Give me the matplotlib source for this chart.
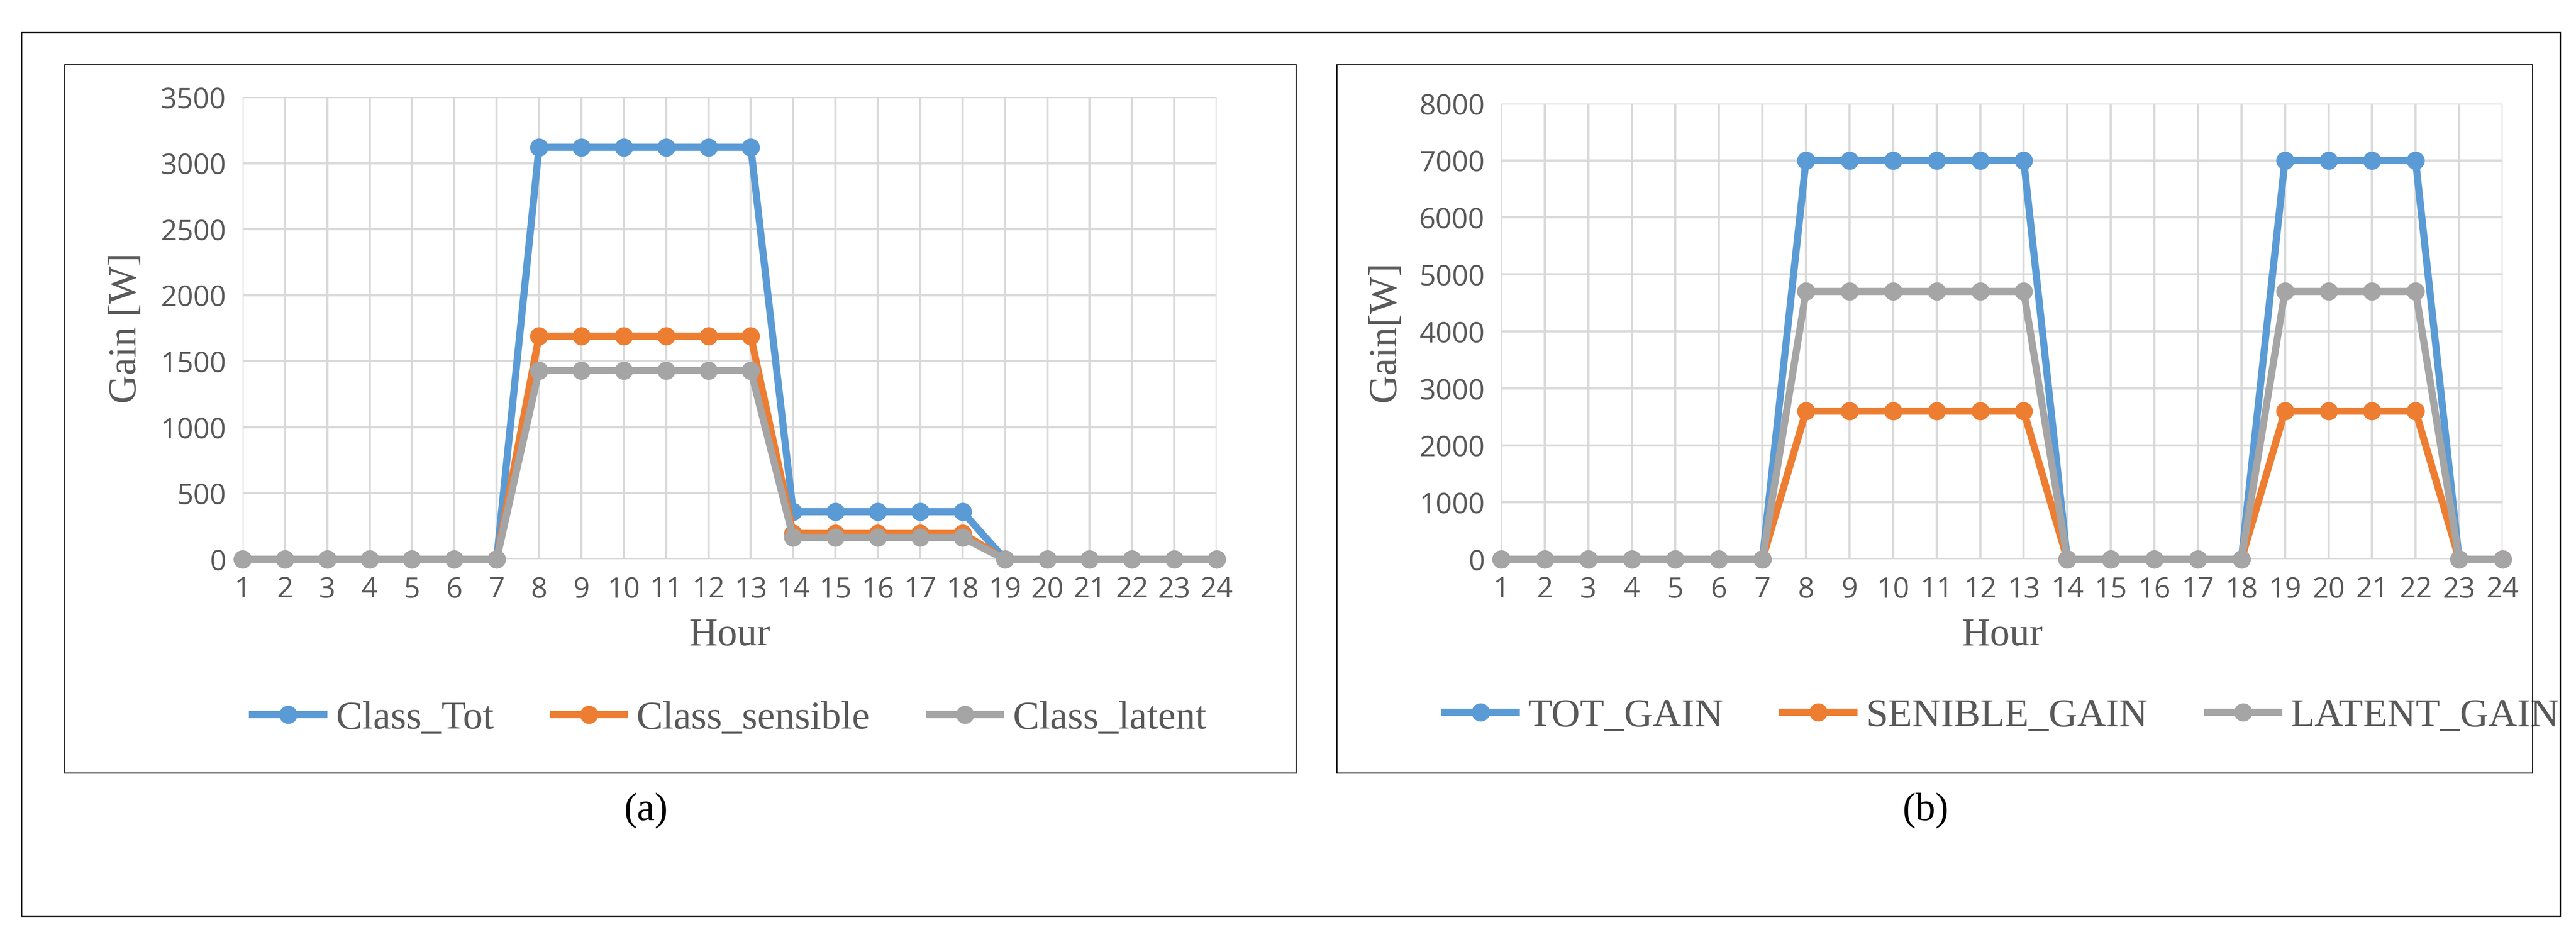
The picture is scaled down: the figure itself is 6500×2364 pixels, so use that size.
import matplotlib
matplotlib.use("Agg")
import matplotlib.pyplot as plt
from matplotlib.patches import Rectangle

hours = list(range(1, 25))
class_tot =      [0]*7 + [3120]*6 + [360]*5 + [0]*6
class_sensible = [0]*7 + [1690]*6 + [195]*5 + [0]*6
class_latent =   [0]*7 + [1430]*6 + [165]*5 + [0]*6
tot_gain =      [0]*7 + [7000]*6 + [0]*5 + [7000]*4 + [0]*2
senible_gain =  [0]*7 + [2600]*6 + [0]*5 + [2600]*4 + [0]*2
latent_gain =   [0]*7 + [4700]*6 + [0]*5 + [4700]*4 + [0]*2

colors = ["#5B9BD5", "#ED7D31", "#A5A5A5"]
W, H = 6500, 2364
fig = plt.figure(figsize=(W/100, H/100), dpi=100)
tick_font = "Open Sans"
lab_font = "Liberation Serif"

def frame(x0, y0, x1, y1, lw):
    fig.add_artist(Rectangle((x0/W, 1-y1/H), (x1-x0)/W, (y1-y0)/H, transform=fig.transFigure,
                             fill=False, edgecolor="black", lw=lw))

frame(54, 82, 6460, 2311, 2.5)
frame(163, 163, 3270, 1950, 2)
frame(3373, 163, 6390, 1950, 2)

def panel(rect, series, names, ymax, step, ylabel, label_x, tag):
    x0, y0, x1, y1 = rect
    ax = fig.add_axes([x0/W, 1-y1/H, (x1-x0)/W, (y1-y0)/H])
    for s, n, c in zip(series, names, colors):
        ax.plot(hours, s, color=c, lw=13, marker="o", ms=32, label=n, clip_on=False, zorder=3)
    ax.set_xlim(1, 24)
    ax.set_ylim(0, ymax)
    ax.set_xticks(hours)
    ax.set_yticks(range(0, ymax+1, step))
    ax.grid(True, color="#D9D9D9", lw=4)
    for sp in ax.spines.values():
        sp.set_visible(False)
    ax.tick_params(length=0, labelsize=52, colors="#595959", pad=30)
    for t in ax.get_xticklabels() + ax.get_yticklabels():
        t.set_fontfamily(tick_font)
    ax.set_xlabel("Hour", fontfamily=lab_font, fontsize=72, color="#595959", labelpad=25)
    ax.set_ylabel(ylabel, fontfamily=lab_font, fontsize=72, color="#595959", labelpad=30)
    leg = ax.legend(loc="center", bbox_to_anchor=(0.5, -0.345), ncol=3, frameon=False,
                    prop={"family": lab_font, "size": 72}, handlelength=1.8, columnspacing=1.5,
                    handletextpad=0.3)
    for t in leg.get_texts():
        t.set_color("#595959")
    fig.text(label_x/W, 1-2045/H, tag, fontfamily=lab_font,
             fontsize=72, ha="center", va="center")
    return ax

panel((612, 245, 3070, 1411), [class_tot, class_sensible, class_latent],
      ["Class_Tot", "Class_sensible", "Class_latent"], 3500, 500, "Gain [W]", 1630, "(a)")
panel((3788, 261, 6315, 1411), [tot_gain, senible_gain, latent_gain],
      ["TOT_GAIN", "SENIBLE_GAIN", "LATENT_GAIN"], 8000, 1000, "Gain[W]", 4859, "(b)")

fig.savefig("out.png", dpi=100, facecolor="white")
